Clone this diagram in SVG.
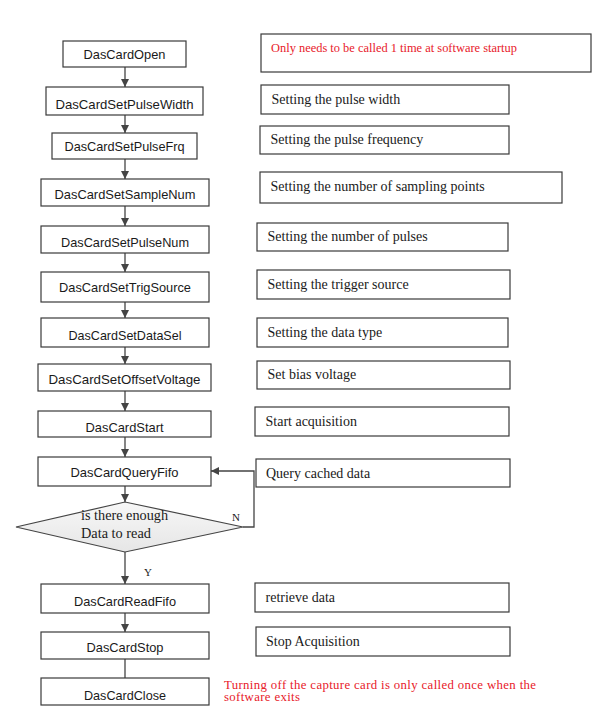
<svg xmlns="http://www.w3.org/2000/svg" width="601" height="728" viewBox="0 0 601 728">
<style>
.box{fill:#fff;stroke:#3a3a3a;stroke-width:1.2}
.fn{font-family:"Liberation Sans",Arial,sans-serif;font-size:13px;fill:#1a1a1a;text-anchor:middle}
.nt{font-family:"Liberation Serif","Times New Roman",serif;font-size:14px;fill:#1a1a1a}
.red{font-family:"Liberation Serif","Times New Roman",serif;fill:#e8202a}
.lbl{font-family:"Liberation Serif","Times New Roman",serif;font-size:11px;fill:#1a1a1a}
.con{fill:none;stroke:#444;stroke-width:1.3}
</style>
<defs>
<marker id="ah" viewBox="0 0 10 10" refX="10" refY="5" markerWidth="8" markerHeight="8" markerUnits="userSpaceOnUse" orient="auto">
<path d="M0,0 L10,5 L0,10 z" fill="#444"/>
</marker>
<linearGradient id="dg" x1="0" y1="0" x2="0" y2="1">
<stop offset="0" stop-color="#f7f7f7"/>
<stop offset="1" stop-color="#e6e6e6"/>
</linearGradient>
</defs>
<rect width="601" height="728" fill="#fff"/>

<g id="connectors">
<line class="con" x1="125" y1="67" x2="125" y2="87" marker-end="url(#ah)"/>
<line class="con" x1="125" y1="115" x2="125" y2="133" marker-end="url(#ah)"/>
<line class="con" x1="125" y1="159" x2="125" y2="179" marker-end="url(#ah)"/>
<line class="con" x1="125" y1="206" x2="125" y2="226" marker-end="url(#ah)"/>
<line class="con" x1="125" y1="253" x2="125" y2="272" marker-end="url(#ah)"/>
<line class="con" x1="125" y1="302" x2="125" y2="318" marker-end="url(#ah)"/>
<line class="con" x1="125" y1="347" x2="125" y2="364" marker-end="url(#ah)"/>
<line class="con" x1="125" y1="391" x2="125" y2="411" marker-end="url(#ah)"/>
<line class="con" x1="125" y1="437" x2="125" y2="457" marker-end="url(#ah)"/>
<line class="con" x1="125" y1="486" x2="125" y2="502" marker-end="url(#ah)"/>
<polyline class="con" points="243,527 254,527 254,471 211,471" marker-end="url(#ah)"/>
<line class="con" x1="125" y1="552" x2="125" y2="584" marker-end="url(#ah)"/>
<line class="con" x1="125" y1="613" x2="125" y2="632" marker-end="url(#ah)"/>
<line class="con" x1="125" y1="659" x2="125" y2="678"/>
<text class="lbl" x="232" y="521">N</text>
<text class="lbl" x="144" y="576">Y</text>
</g>

<g id="n-open"><rect class="box" x="63" y="41" width="123" height="26"/><text class="fn" x="124.5" y="59" textLength="82" lengthAdjust="spacingAndGlyphs">DasCardOpen</text></g>
<g id="n-pulsewidth"><rect class="box" x="46" y="87" width="157" height="28"/><text class="fn" x="124.5" y="109" textLength="138" lengthAdjust="spacingAndGlyphs">DasCardSetPulseWidth</text></g>
<g id="n-pulsefrq"><rect class="box" x="52" y="133" width="145" height="26"/><text class="fn" x="124.5" y="151" textLength="120" lengthAdjust="spacingAndGlyphs">DasCardSetPulseFrq</text></g>
<g id="n-samplenum"><rect class="box" x="41" y="179" width="168" height="27"/><text class="fn" x="125" y="198.5" textLength="141" lengthAdjust="spacingAndGlyphs">DasCardSetSampleNum</text></g>
<g id="n-pulsenum"><rect class="box" x="41" y="226" width="168" height="27"/><text class="fn" x="125" y="246.5" textLength="128" lengthAdjust="spacingAndGlyphs">DasCardSetPulseNum</text></g>
<g id="n-trigsource"><rect class="box" x="41" y="272" width="168" height="30"/><text class="fn" x="125" y="292" textLength="132" lengthAdjust="spacingAndGlyphs">DasCardSetTrigSource</text></g>
<g id="n-datasel"><rect class="box" x="41" y="318" width="168" height="29"/><text class="fn" x="125" y="340" textLength="113" lengthAdjust="spacingAndGlyphs">DasCardSetDataSel</text></g>
<g id="n-offset"><rect class="box" x="38" y="364" width="173" height="27"/><text class="fn" x="124.5" y="384" textLength="152" lengthAdjust="spacingAndGlyphs">DasCardSetOffsetVoltage</text></g>
<g id="n-start"><rect class="box" x="38" y="411" width="173" height="26"/><text class="fn" x="124.5" y="431.5" textLength="78" lengthAdjust="spacingAndGlyphs">DasCardStart</text></g>
<g id="n-query"><rect class="box" x="38" y="457" width="173" height="29"/><text class="fn" x="124.5" y="476.5" textLength="108" lengthAdjust="spacingAndGlyphs">DasCardQueryFifo</text></g>
<g id="n-decision"><polygon points="16,527 125,502 243,527 125,552" fill="url(#dg)" stroke="#444" stroke-width="1.2"/><text class="nt" x="81" y="520" textLength="87" lengthAdjust="spacingAndGlyphs">is there enough</text><text class="nt" x="81" y="537.5" textLength="70" lengthAdjust="spacingAndGlyphs">Data to read</text></g>
<g id="n-readfifo"><rect class="box" x="41" y="584" width="168" height="29"/><text class="fn" x="125" y="606" textLength="102" lengthAdjust="spacingAndGlyphs">DasCardReadFifo</text></g>
<g id="n-stop"><rect class="box" x="41" y="632" width="168" height="27"/><text class="fn" x="125" y="652" textLength="77" lengthAdjust="spacingAndGlyphs">DasCardStop</text></g>
<g id="n-close"><rect class="box" x="41" y="678" width="168" height="27"/><text class="fn" x="125" y="700" textLength="82" lengthAdjust="spacingAndGlyphs">DasCardClose</text></g>

<g id="note-open"><rect class="box" x="261" y="34" width="330" height="38"/><text class="red" x="271" y="51.5" font-size="12.4" textLength="246" lengthAdjust="spacingAndGlyphs">Only needs to be called 1 time at software startup</text></g>
<g id="note-pulsewidth"><rect class="box" x="261" y="85" width="248" height="29"/><text class="nt" x="271.5" y="104">Setting the pulse width</text></g>
<g id="note-pulsefrq"><rect class="box" x="260" y="126" width="249" height="28"/><text class="nt" x="270.5" y="144">Setting the pulse frequency</text></g>
<g id="note-samplenum"><rect class="box" x="260" y="172" width="302" height="31"/><text class="nt" x="270.5" y="190.5">Setting the number of sampling points</text></g>
<g id="note-pulsenum"><rect class="box" x="257" y="223" width="251" height="28"/><text class="nt" x="267.5" y="240.5">Setting the number of pulses</text></g>
<g id="note-trig"><rect class="box" x="257" y="270" width="253" height="29"/><text class="nt" x="267.5" y="288.5">Setting the trigger source</text></g>
<g id="note-datatype"><rect class="box" x="257" y="318" width="251" height="29"/><text class="nt" x="267.5" y="336.5">Setting the data type</text></g>
<g id="note-bias"><rect class="box" x="257" y="361" width="253" height="28"/><text class="nt" x="267.5" y="378.5">Set bias voltage</text></g>
<g id="note-start"><rect class="box" x="255" y="407" width="254" height="29"/><text class="nt" x="265.5" y="426">Start acquisition</text></g>
<g id="note-query"><rect class="box" x="256" y="459" width="254" height="28"/><text class="nt" x="266" y="477.5">Query cached data</text></g>
<g id="note-retrieve"><rect class="box" x="255" y="583" width="254" height="29"/><text class="nt" x="265.5" y="601.5">retrieve data</text></g>
<g id="note-stop"><rect class="box" x="256" y="627" width="254" height="29"/><text class="nt" x="266" y="646">Stop Acquisition</text></g>
<g id="note-close"><text class="red" x="224" y="688.5" font-size="12.8" textLength="312" lengthAdjust="spacing">Turning off the capture card is only called once when the</text><text class="red" x="224" y="701" font-size="12.8" textLength="76" lengthAdjust="spacing">software exits</text></g>
</svg>
